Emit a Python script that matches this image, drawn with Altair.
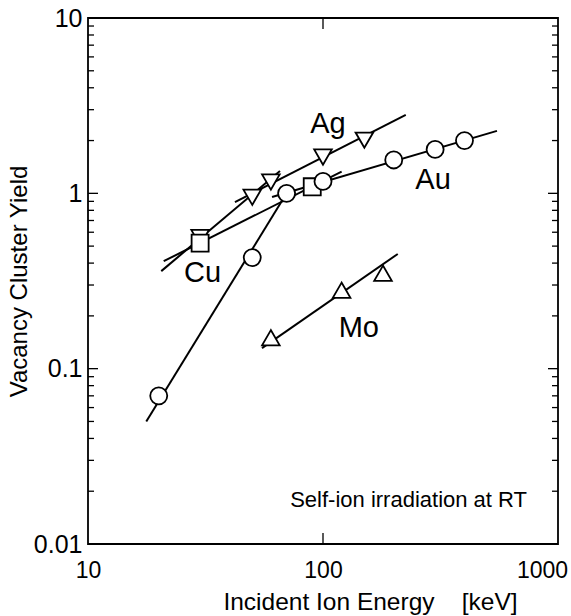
import altair as alt
import pandas as pd

# ---------------- data ----------------
au_x = [20, 50, 70, 100, 200, 300, 400]
au_y = [0.070, 0.43, 1.00, 1.17, 1.55, 1.78, 2.00]
cu_x = [30, 90]
cu_y = [0.52, 1.09]
ag_x = [30, 50, 60, 100, 150]
ag_y = [0.56, 0.95, 1.16, 1.61, 2.01]
mo_x = [60, 120, 180]
mo_y = [0.150, 0.28, 0.35]

# fitted straight lines (segment end points)
seg_id = ["Au1", "Au1", "Au2", "Au2", "Cu", "Cu", "Ag1", "Ag1", "Ag2", "Ag2", "Mo", "Mo"]
seg_x = [17.7, 70, 60.7, 550, 21, 120, 20.5, 65.6, 42.2, 225, 55, 208]
seg_y = [0.050, 1.0, 0.953, 2.27, 0.41, 1.33, 0.36, 1.34, 0.89, 2.8, 0.131, 0.451]

# in-plot labels
lab_text = ["Ag", "Au", "Cu", "Mo"]
lab_x = [105, 294, 30.7, 142]
lab_y = [2.48, 1.19, 0.351, 0.1715]
note_text = ["Self-ion irradiation at RT"]
note_x = [738]
note_y = [0.0179]

# axis ticks
x_labels = [10, 100, 1000]
y_labels = [0.01, 0.1, 1, 10]
x_inner_ticks = [100]
y_major_ticks = [0.01, 0.1, 1, 10]
y_minor_ticks = [0.02, 0.03, 0.04, 0.05, 0.06, 0.07, 0.08, 0.09,
                 0.2, 0.3, 0.4, 0.5, 0.6, 0.7, 0.8, 0.9,
                 2, 3, 4, 5, 6, 7, 8, 9]

FONT = "Liberation Sans"
W, H = 470, 526

xscale = alt.Scale(type="log", domain=[10, 1000], nice=False)
yscale = alt.Scale(type="log", domain=[0.01, 10], nice=False)

x_axis = alt.Axis(
    values=x_labels, format="~g", ticks=False, domain=False, grid=False,
    labelFontSize=23, labelPadding=15, labelFlush=False,
    labelOffset={"condition": {"test": "datum.value >= 1000", "value": -16}, "value": 0},
    title="Incident Ion Energy\u00a0\u00a0\u00a0\u00a0[keV]",
    titleFontSize=24.5, titleFontWeight="normal", titlePadding=8, titleX=282)
y_axis = alt.Axis(
    values=y_labels, format="~g", ticks=False, domain=False, grid=False,
    labelFontSize=25, labelPadding=6,
    title="Vacancy Cluster Yield", titleFontSize=24, titleFontWeight="normal",
    titlePadding=2)


def X(field="x"):
    return alt.X(f"{field}:Q", scale=xscale, axis=x_axis, title=x_axis.title)


def Y(field="y"):
    return alt.Y(f"{field}:Q", scale=yscale, axis=y_axis, title=y_axis.title)


df_seg = pd.DataFrame({"seg": seg_id, "x": seg_x, "y": seg_y})

lines = alt.Chart(df_seg).mark_line(color="black", strokeWidth=2).encode(
    x=X(), y=Y(), detail="seg:N")


def pts(xs, ys, shape, size):
    df = pd.DataFrame({"x": xs, "y": ys})
    return alt.Chart(df).mark_point(
        shape=shape, filled=True, fill="white", stroke="black",
        strokeWidth=1.8, size=size, opacity=1
    ).encode(x=X(), y=Y())


ag_pts = pts(ag_x, ag_y, "triangle-down", 310)
cu_pts = pts(cu_x, cu_y, "square", 290)
au_pts = pts(au_x, au_y, "circle", 290)
mo_pts = pts(mo_x, mo_y, "triangle-up", 310)

labels = alt.Chart(pd.DataFrame({"t": lab_text, "x": lab_x, "y": lab_y})).mark_text(
    font=FONT, fontSize=29, color="black"
).encode(x=X(), y=Y(), text="t:N")

note = alt.Chart(pd.DataFrame({"t": note_text, "x": note_x, "y": note_y})).mark_text(
    font=FONT, fontSize=22, color="black", align="right"
).encode(x=X(), y=Y(), text="t:N")


def yticks(vals, length):
    df = pd.DataFrame({"y": vals})
    left = alt.Chart(df).mark_rule(color="black", strokeWidth=1.3).encode(
        y=Y(), x=alt.value(0), x2=alt.value(length))
    right = alt.Chart(df).mark_rule(color="black", strokeWidth=1.3).encode(
        y=Y(), x=alt.value(W), x2=alt.value(W - length))
    return [left, right]


def xticks(vals, length):
    df = pd.DataFrame({"x": vals})
    bottom = alt.Chart(df).mark_rule(color="black", strokeWidth=1.3).encode(
        x=X(), y=alt.value(H), y2=alt.value(H - length))
    top = alt.Chart(df).mark_rule(color="black", strokeWidth=1.3).encode(
        x=X(), y=alt.value(0), y2=alt.value(length))
    return [bottom, top]


chart = alt.layer(
    lines,
    *yticks(y_major_ticks, 10), *yticks(y_minor_ticks, 6), *xticks(x_inner_ticks, 11),
    ag_pts, cu_pts, au_pts, mo_pts, labels, note,
).properties(
    width=W, height=H,
    padding={"left": 88, "top": 18, "right": 13, "bottom": 72},
    autosize=alt.AutoSizeParams(type="none"),
    background="white",
).configure_view(
    stroke="black", strokeWidth=1.8
).configure_axis(
    labelFont=FONT, titleFont=FONT, labelColor="black", titleColor="black"
)

chart.save("out.html", embed_options={"renderer": "svg", "actions": False})
